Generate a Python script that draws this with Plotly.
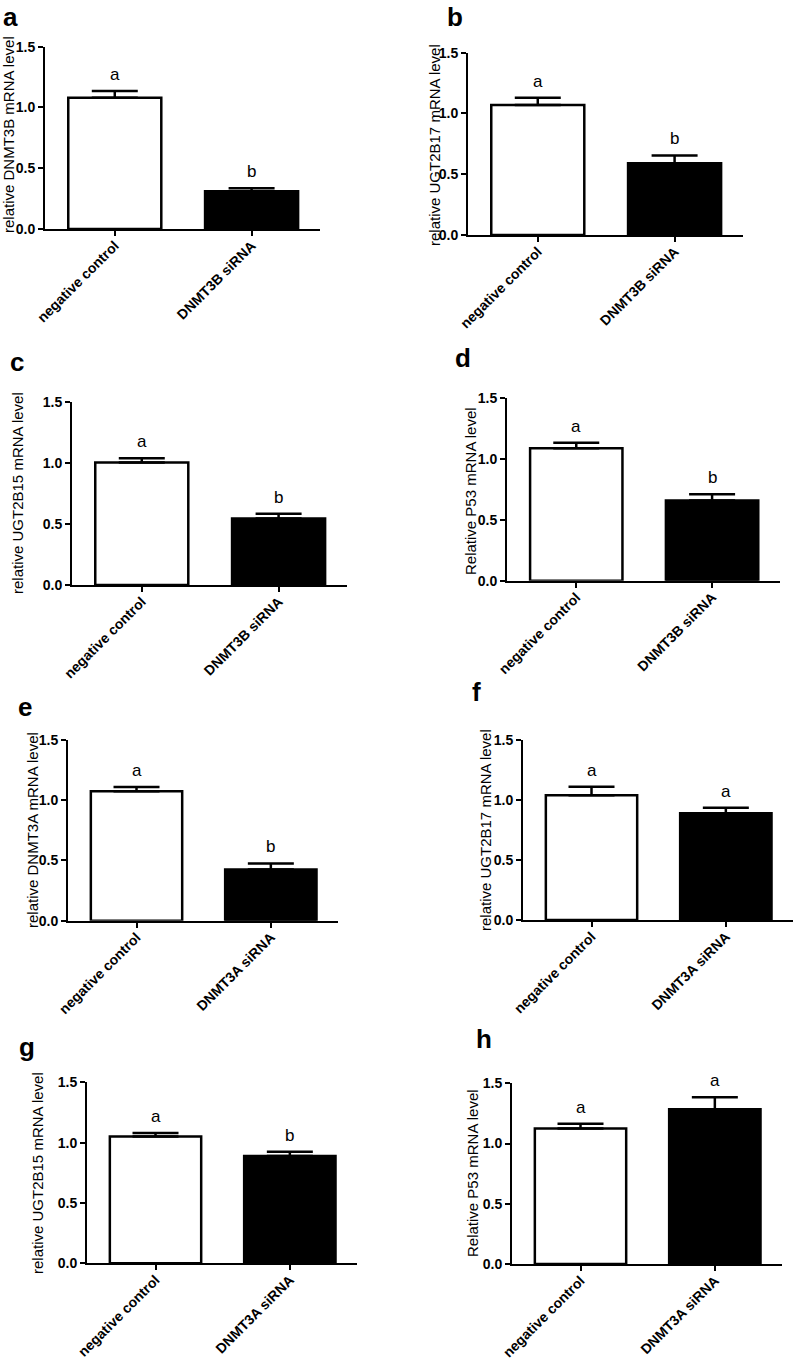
import plotly.graph_objects as go

# ── data ──────────────────────────────────────────────────────────────────────
CATS_3B = ["negative control", "DNMT3B siRNA"]
CATS_3A = ["negative control", "DNMT3A siRNA"]

MEAN_A = [1.08, 0.31];  SEM_A = [0.055, 0.025]; SIG_A = ["a", "b"]
MEAN_B = [1.07, 0.59];  SEM_B = [0.060, 0.065]; SIG_B = ["a", "b"]
MEAN_C = [1.005, 0.545]; SEM_C = [0.035, 0.040]; SIG_C = ["a", "b"]
MEAN_D = [1.09, 0.66];  SEM_D = [0.045, 0.050]; SIG_D = ["a", "b"]
MEAN_E = [1.075, 0.425]; SEM_E = [0.035, 0.050]; SIG_E = ["a", "b"]
MEAN_F = [1.04, 0.89];  SEM_F = [0.070, 0.045]; SIG_F = ["a", "a"]
MEAN_G = [1.05, 0.89];  SEM_G = [0.030, 0.035]; SIG_G = ["a", "b"]
MEAN_H = [1.125, 1.285]; SEM_H = [0.040, 0.100]; SIG_H = ["a", "a"]

Y_TITLES = [
    "relative DNMT3B mRNA level", "relative UGT2B17 mRNA level",
    "relative UGT2B15 mRNA level", "Relative P53 mRNA level",
    "relative DNMT3A mRNA level", "relative UGT2B17 mRNA level",
    "relative UGT2B15 mRNA level", "Relative P53 mRNA level",
]
PANEL_LABELS = ["a", "b", "c", "d", "e", "f", "g", "h"]
Y_TICKS = [0, 0.5, 1.0, 1.5]

# ── layout geometry (pixels) ──────────────────────────────────────────────────
W, H = 800, 1360
FONT = "Liberation Sans, Arial, sans-serif"
# left, right, y-pixel of 0, y-pixel of 1.5
BOXES = [
    (45, 320, 229, 46.7), (468, 743, 235, 52.7),
    (72, 347, 585, 402.3), (507, 780, 580.7, 398.3),
    (68, 338, 920.7, 740), (523, 793, 920, 740),
    (87, 357, 1263.3, 1082.3), (512, 782, 1264, 1083.3),
]
TITLE_POS = [(9, 135), (435, 145), (17, 493), (470, 491),
             (32, 830), (485, 830), (37, 1173), (472, 1173)]
LETTER_POS = [(10, 12), (455, 13), (17, 360), (463, 356),
              (25, 705), (477, 690), (27, 1045), (484, 1037)]

panels = [
    (CATS_3B, MEAN_A, SEM_A, SIG_A), (CATS_3B, MEAN_B, SEM_B, SIG_B),
    (CATS_3B, MEAN_C, SEM_C, SIG_C), (CATS_3B, MEAN_D, SEM_D, SIG_D),
    (CATS_3A, MEAN_E, SEM_E, SIG_E), (CATS_3A, MEAN_F, SEM_F, SIG_F),
    (CATS_3A, MEAN_G, SEM_G, SIG_G), (CATS_3A, MEAN_H, SEM_H, SIG_H),
]

fig = go.Figure()
annotations = []
layout = {}

for i, (cats, mean, sem, sig) in enumerate(panels):
    n = i + 1
    xa, ya = f"x{n}", f"y{n}"
    left, right, y0, y15 = BOXES[i]

    fig.add_trace(go.Bar(
        x=cats, y=mean,
        xaxis=xa, yaxis=ya,
        width=0.68,
        marker=dict(color=["white", "black"], line=dict(color="black", width=2.5)),
        error_y=dict(type="data", symmetric=False, array=sem, arrayminus=[0, 0],
                     color="black", thickness=2.5, width=23),
        showlegend=False,
    ))

    layout[f"xaxis{n}"] = dict(
        domain=[left / W, right / W], anchor=ya, automargin=False,
        range=[-0.51, 1.5], showline=True, linecolor="black", linewidth=2,
        ticks="outside", ticklen=5, tickwidth=2, tickcolor="black",
        tickangle=-45, ticklabelstandoff=-4, showgrid=False, zeroline=False,
        tickfont=dict(family=FONT, size=14, color="black", weight="bold"),
    )
    layout[f"yaxis{n}"] = dict(
        domain=[1 - y0 / H, 1 - y15 / H], anchor=xa, automargin=False,
        range=[0, 1.5], tickvals=Y_TICKS, tickformat=".1f",
        showline=True, linecolor="black", linewidth=2,
        ticks="outside", ticklen=5, tickwidth=2, tickcolor="black",
        showgrid=False, zeroline=False,
        tickfont=dict(family=FONT, size=14, color="black", weight="bold"),
    )

    # significance letters
    for c, m, s, t in zip(cats, mean, sem, sig):
        annotations.append(dict(
            x=c, y=m + s, xref=xa, yref=ya, text=t, showarrow=False,
            yanchor="bottom", yshift=5,
            font=dict(family=FONT, size=17, color="black"),
        ))

    # y-axis title
    tx, ty = TITLE_POS[i]
    annotations.append(dict(
        x=tx / W, y=1 - ty / H, xref="paper", yref="paper",
        text=Y_TITLES[i], textangle=-90, showarrow=False,
        xanchor="center", yanchor="middle",
        font=dict(family=FONT, size=15, color="black"),
    ))

    # panel letter (anchored by its top edge, kept inside the page)
    lx, ly = LETTER_POS[i]
    annotations.append(dict(
        x=lx / W, y=1 - max(ly - 15, 0) / H, xref="paper", yref="paper",
        text=f"<b>{PANEL_LABELS[i]}</b>", showarrow=False,
        xanchor="center", yanchor="top",
        font=dict(family=FONT, size=26, color="black"),
    ))

fig.update_layout(
    width=W, height=H,
    margin=dict(l=0, r=0, t=0, b=0),
    paper_bgcolor="white", plot_bgcolor="white",
    annotations=annotations,
    **layout,
)

# page body has an 8px default margin; drop it so the figure fills the window
fig.write_html("out.html", config={"displayModeBar": False},
               post_script="document.body.style.margin = '0';")
